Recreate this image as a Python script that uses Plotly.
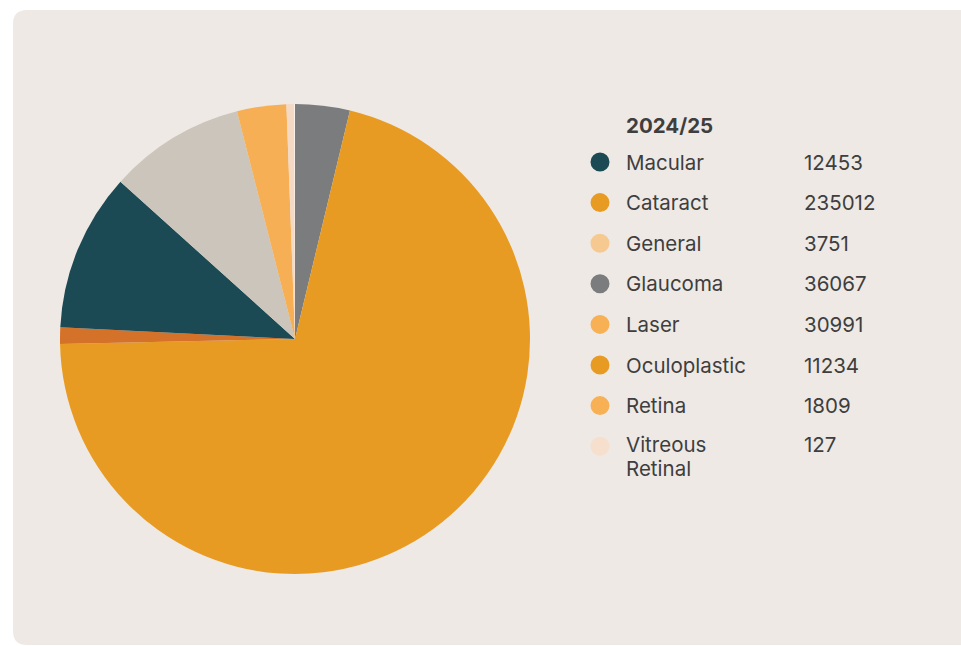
import plotly.graph_objects as go

categories = ["Macular", "Cataract", "General", "Glaucoma", "Laser", "Oculoplastic", "Retina", "Vitreous Retinal"]
values = [12453, 235012, 3751, 36067, 30991, 11234, 1809, 127]
legend_title = "2024/25"
slice_colors = ["#7B7C7E", "#E89B22", "#D5722A", "#1B4954", "#CCC5BB", "#F6AF55", "#F4D9C4", "#FFFFFF"]
legend_colors = ["#1B4954", "#E89B22", "#F5C990", "#7B7C7E", "#F8B055", "#E89B22", "#F8B055", "#F6DFCD"]
legend_lines = [["Macular"], ["Cataract"], ["General"], ["Glaucoma"], ["Laser"], ["Oculoplastic"], ["Retina"], ["Vitreous", "Retinal"]]

W, H = 961, 646
FONT = "Inter, Lato, sans-serif"
TXT = "#3E3E3E"
FS = 20.5

fig = go.Figure()
fig.add_trace(go.Pie(
    labels=categories, values=values, sort=False, direction="clockwise", rotation=0,
    marker=dict(colors=slice_colors, line=dict(width=0)),
    textinfo="none", hoverinfo="label+value+percent",
    domain=dict(x=[(295 - 235) / W, (295 + 235) / W], y=[1 - 574 / H, 1 - 104 / H]),
    showlegend=False,
))

def px(x): return x / W
def py(y): return 1 - y / H

shapes = []
x0, y0, x1, y1, r = 13, 10, 975, 645, 14
path = (f"M {px(x0 + r)},{py(y0)} L {px(x1)},{py(y0)} L {px(x1)},{py(y1)} L {px(x0 + r)},{py(y1)} "
        f"Q {px(x0)},{py(y1)} {px(x0)},{py(y1 - r)} L {px(x0)},{py(y0 + r)} Q {px(x0)},{py(y0)} {px(x0 + r)},{py(y0)} Z")
shapes.append(dict(type="path", path=path, xref="paper", yref="paper", fillcolor="#EEE9E5", line=dict(width=0), layer="below"))

def txt(s, x, y):
    return dict(text=s, x=px(x), y=py(y), xref="paper", yref="paper", xanchor="left", yanchor="middle",
                showarrow=False, font=dict(family=FONT, size=FS, color=TXT))

annotations = [txt(f"<b>{legend_title}</b>", 624, 125)]
row0, step = 162, 40.6
for i, (lines, val, col) in enumerate(zip(legend_lines, values, legend_colors)):
    yc = row0 + i * step
    rd = 9.5
    shapes.append(dict(type="circle", xref="paper", yref="paper", x0=px(600 - rd), x1=px(600 + rd),
                       y0=py(yc + rd), y1=py(yc - rd), fillcolor=col, line=dict(width=0)))
    off = -2 if len(lines) > 1 else 0
    for j, ln in enumerate(lines):
        annotations.append(txt(ln, 624, yc + off + j * 24))
    annotations.append(txt(str(val), 802, yc + off))

fig.update_layout(width=W, height=H, margin=dict(l=0, r=0, t=0, b=0),
                  paper_bgcolor="#FFFFFF", plot_bgcolor="#FFFFFF",
                  shapes=shapes, annotations=annotations)
fig.write_html("out.html")
